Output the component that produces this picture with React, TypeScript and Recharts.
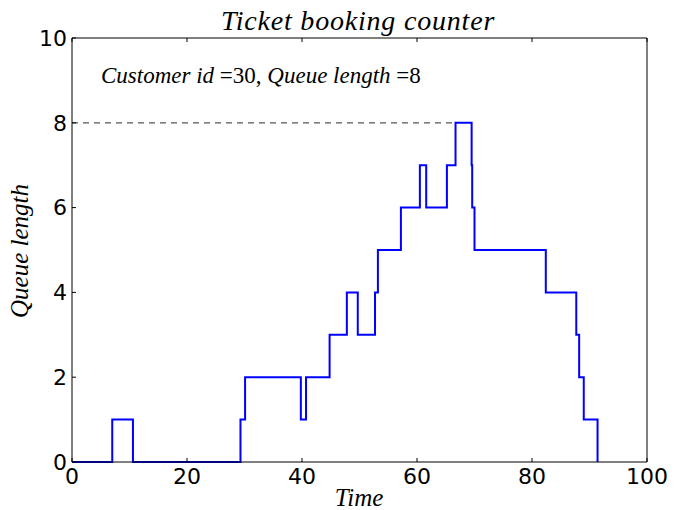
import { LineChart, Line, XAxis, YAxis, ReferenceLine } from "recharts";

// time at which the queue length changes, and the new length from that time on
const times = [0, 7, 10.6, 29.3, 30.1, 39.8, 40.7, 44.8, 47.8, 49.7, 52.7, 53.2, 57.2, 60.5, 61.6, 65.2, 66.7, 69.5, 69.6, 70.0, 82.4, 87.7, 88.2, 89.0, 91.4];
const queueLengths = [0, 1, 0, 1, 2, 1, 2, 3, 4, 3, 4, 5, 6, 7, 6, 7, 8, 7, 6, 5, 4, 3, 2, 1, 0];

const xTicks = [0, 20, 40, 60, 80, 100];
const yTicks = [0, 2, 4, 6, 8, 10];

const peakTime = 66.7;
const peakLength = 8;
const customerId = 30;

const data = times.map((t, i) => ({ time: t, queue: queueLengths[i] }));

const tickFont = { fontFamily: "'DejaVu Sans', sans-serif", fontSize: 22, fill: "#000" };
const mathFont = "'Liberation Serif', 'DejaVu Serif', serif";

export default function App() {
  return (
    <div style={{ position: "absolute", left: 0, top: 0, width: 680, height: 510, background: "#fff", overflow: "hidden" }}>
      <LineChart width={680} height={510} data={data} margin={{ top: 37, right: 32, bottom: 8, left: 12 }}>
        <XAxis
          dataKey="time"
          type="number"
          domain={[0, 100]}
          ticks={xTicks}
          height={40}
          tickSize={-4}
          tickMargin={10}
          tick={tickFont}
          axisLine={{ stroke: "#000" }}
          tickLine={{ stroke: "#000" }}
        />
        <XAxis
          xAxisId="top"
          orientation="top"
          dataKey="time"
          type="number"
          domain={[0, 100]}
          ticks={xTicks}
          height={1}
          tickSize={-4}
          tickFormatter={() => ""}
          axisLine={{ stroke: "#000" }}
          tickLine={{ stroke: "#000" }}
        />
        <YAxis
          type="number"
          domain={[0, 10]}
          ticks={yTicks}
          width={60}
          tickSize={-4}
          tickMargin={9}
          tick={tickFont}
          axisLine={{ stroke: "#000" }}
          tickLine={{ stroke: "#000" }}
        />
        <YAxis
          yAxisId="right"
          orientation="right"
          type="number"
          domain={[0, 10]}
          ticks={yTicks}
          width={1}
          tickSize={-4}
          tickFormatter={() => ""}
          axisLine={{ stroke: "#000" }}
          tickLine={{ stroke: "#000" }}
        />
        <ReferenceLine
          segment={[{ x: 0, y: peakLength }, { x: peakTime, y: peakLength }]}
          stroke="#555"
          strokeWidth={1.2}
          strokeDasharray="6 5"
        />
        <Line
          type="stepAfter"
          dataKey="queue"
          stroke="#0000ff"
          strokeWidth={2}
          dot={false}
          isAnimationActive={false}
        />
      </LineChart>
      <svg width={680} height={510} style={{ position: "absolute", left: 0, top: 0, pointerEvents: "none" }}>
        <text x={358} y={30} textAnchor="middle" fontFamily={mathFont} fontStyle="italic" fontSize={28} letterSpacing={0.8}>
          Ticket booking counter
        </text>
        <text x={101} y={83} fontFamily={mathFont} fontSize={23}>
          <tspan fontStyle="italic">Customer id</tspan>
          <tspan> ={customerId}, </tspan>
          <tspan fontStyle="italic">Queue length</tspan>
          <tspan> ={peakLength}</tspan>
        </text>
        <text x={359} y={506} textAnchor="middle" fontFamily={mathFont} fontStyle="italic" fontSize={25}>
          Time
        </text>
        <text
          x={0}
          y={0}
          transform="translate(28, 251) rotate(-90)"
          textAnchor="middle"
          fontFamily={mathFont}
          fontStyle="italic"
          fontSize={25}
        >
          Queue length
        </text>
      </svg>
    </div>
  );
}
